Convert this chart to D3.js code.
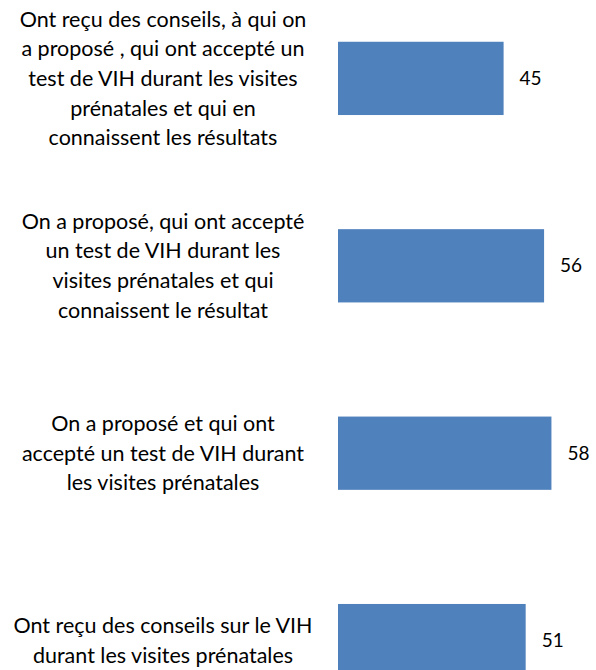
<!DOCTYPE html>
<html>
<head>
<meta charset="utf-8">
<script src="https://cdn.jsdelivr.net/npm/d3@7"></script>
<style>
  body { margin: 0; background: #fff; }
  text { font-family: Lato, "Open Sans", sans-serif; fill: #000; }
</style>
</head>
<body>
<div id="chart"></div>
<script>
// Data
const categories = ["c1", "c2", "c3", "c4"];
const labelLines = [
  ["Ont reçu des conseils, à qui on", "a proposé , qui ont accepté un", "test de VIH durant les visites", "prénatales et qui en", "connaissent les résultats"],
  ["On a proposé, qui ont accepté", "un test de VIH durant les", "visites prénatales et qui", "connaissent le résultat"],
  ["On a proposé et qui ont", "accepté un test de VIH durant", "les visites prénatales"],
  ["Ont reçu des conseils sur le VIH", "durant les visites prénatales"]
];
const values = [45, 56, 58, 51];

// Create the chart
const width = 596;
const height = 670;
const svg = d3.select("#chart")
  .append("svg")
  .attr("width", width)
  .attr("height", height);

// Create the scales
const x = d3.scaleLinear()
  .domain([0, 100])
  .range([338, 706]);
const y = d3.scaleBand()
  .domain(categories)
  .range([-15.3, 734.3])
  .paddingInner(0.609)
  .paddingOuter(0.3045);

// Draw the bars
svg.selectAll("rect.bar")
  .data(values)
  .enter()
  .append("rect")
  .attr("class", "bar")
  .attr("x", x(0))
  .attr("y", (d, i) => y(categories[i]))
  .attr("width", d => x(d) - x(0))
  .attr("height", y.bandwidth())
  .attr("fill", "#4F81BD");

// Value labels
svg.selectAll("text.value")
  .data(values)
  .enter()
  .append("text")
  .attr("class", "value")
  .attr("x", d => x(d) + 16)
  .attr("y", (d, i) => y(categories[i]) + y.bandwidth() / 2)
  .attr("dy", "0.35em")
  .style("font-size", "19px")
  .text(d => d);

// Category labels (multi-line, centred on the bar)
const lineHeight = 29.7;
labelLines.forEach((lines, i) => {
  const cy = y(categories[i]) + y.bandwidth() / 2;
  const t = svg.append("text")
    .attr("text-anchor", "middle")
    .style("font-size", "21.5px");
  lines.forEach((line, j) => {
    t.append("tspan")
      .attr("x", 163)
      .attr("y", cy + (j - (lines.length - 1) / 2) * lineHeight)
      .attr("dy", "0.35em")
      .text(line);
  });
});
</script>
</body>
</html>
